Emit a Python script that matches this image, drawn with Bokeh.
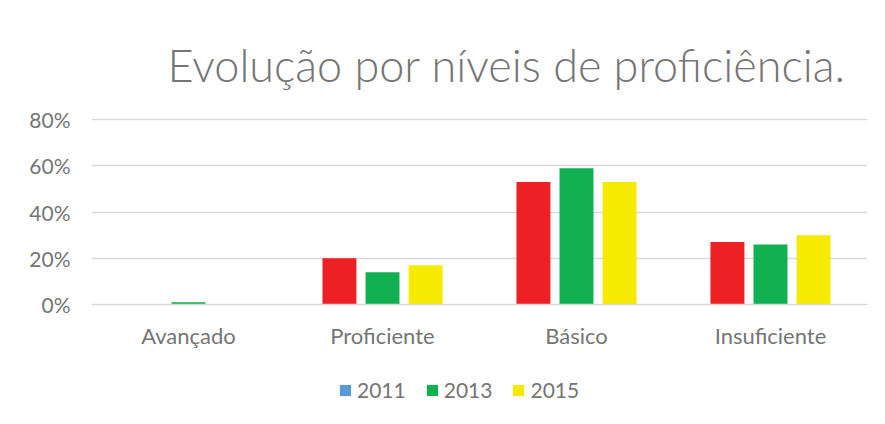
from bokeh.plotting import figure
from bokeh.layouts import column
from bokeh.models import (ColumnDataSource, FactorRange, Legend, LegendItem, NumeralTickFormatter,
                          FixedTicker, Range1d, Label)
from bokeh.transform import dodge
from bokeh.embed import file_html
from bokeh.resources import INLINE

categories = ["Avançado", "Proficiente", "Básico", "Insuficiente"]
years = ["2011", "2013", "2015"]
v2011 = [0.00, 0.20, 0.53, 0.27]
v2013 = [0.01, 0.14, 0.59, 0.26]
v2015 = [0.00, 0.17, 0.53, 0.30]
bar_colors = ["#ED2024", "#11B050", "#F5EA00"]
legend_colors = ["#5B9BD5", "#11B050", "#F5EA00"]
y_ticks = [0, 0.2, 0.4, 0.6, 0.8]
title_text = "Evolução por níveis de proficiência."

FONT = "Lato"
GRAY = "#757575"

# title strip
p0 = figure(x_range=Range1d(0, 1), y_range=Range1d(0, 1), width=884, height=104,
            output_backend="svg", toolbar_location=None,
            x_axis_location=None, y_axis_location=None,
            min_border_left=0, min_border_right=0, min_border_top=0, min_border_bottom=0)
p0.outline_line_color = None
p0.grid.grid_line_color = None
p0.add_layout(Label(x=76, y=40, x_units="screen", y_units="screen", text=title_text,
                    text_font="'Lato Light', Lato", text_font_size="45px",
                    text_color=GRAY, text_align="left", text_baseline="alphabetic"))

src = ColumnDataSource(dict(cat=categories, y2011=v2011, y2013=v2013, y2015=v2015))

p = figure(x_range=FactorRange(*categories), y_range=Range1d(0, 0.805),
           width=884, height=248, output_backend="svg", toolbar_location=None,
           min_border_left=91, min_border_right=17, min_border_top=14, min_border_bottom=48)

offsets = [-0.222, 0.0, 0.222]
cols = ["y2011", "y2013", "y2015"]
for col, off, bc in zip(cols, offsets, bar_colors):
    p.vbar(x=dodge("cat", off, range=p.x_range), top=col, bottom=0, width=0.175,
           source=src, fill_color=bc, line_color=None)

p.outline_line_color = None
p.xgrid.grid_line_color = None
p.ygrid.grid_line_color = "#d9d9d9"
p.ygrid.grid_line_width = 1.5
p.yaxis.ticker = FixedTicker(ticks=y_ticks)
p.yaxis.formatter = NumeralTickFormatter(format="0%")
p.yaxis.axis_line_color = None
p.yaxis.major_tick_line_color = None
p.yaxis.minor_tick_line_color = None
p.yaxis.major_label_standoff = 15
p.xaxis.axis_line_color = "#d9d9d9"
p.xaxis.axis_line_width = 1.5
p.xaxis.major_tick_line_color = None
p.xaxis.major_label_standoff = 11
p.yaxis.major_label_text_font_size = "21px"
p.xaxis.major_label_text_font_size = "22px"
for ax in (p.xaxis, p.yaxis):
    ax.major_label_text_font = FONT
    ax.major_label_text_color = GRAY
p.x_range.range_padding = 0
p.x_range.group_padding = 0

# legend strip
p2 = figure(x_range=Range1d(0, 1), y_range=Range1d(0, 1), width=884, height=71,
            output_backend="svg", toolbar_location=None,
            x_axis_location=None, y_axis_location=None,
            min_border_left=0, min_border_right=0, min_border_top=0, min_border_bottom=0)
p2.outline_line_color = None
p2.grid.grid_line_color = None
items = []
nan = float("nan")
for yr, lc in zip(years, legend_colors):
    r = p2.quad(left=[nan], right=[nan], top=[nan], bottom=[nan], fill_color=lc, line_color=None)
    items.append(LegendItem(label=yr, renderers=[r]))
legend = Legend(items=items, orientation="horizontal", location=(247, 21),
                label_text_font=FONT, label_text_font_size="21px", label_text_color=GRAY,
                glyph_width=14, glyph_height=14, label_standoff=5, spacing=19,
                padding=0, margin=0, border_line_color=None, background_fill_alpha=0)
p2.add_layout(legend, "center")

layout = column(p0, p, p2, spacing=0)
open("out.html", "w").write(file_html(layout, INLINE))
